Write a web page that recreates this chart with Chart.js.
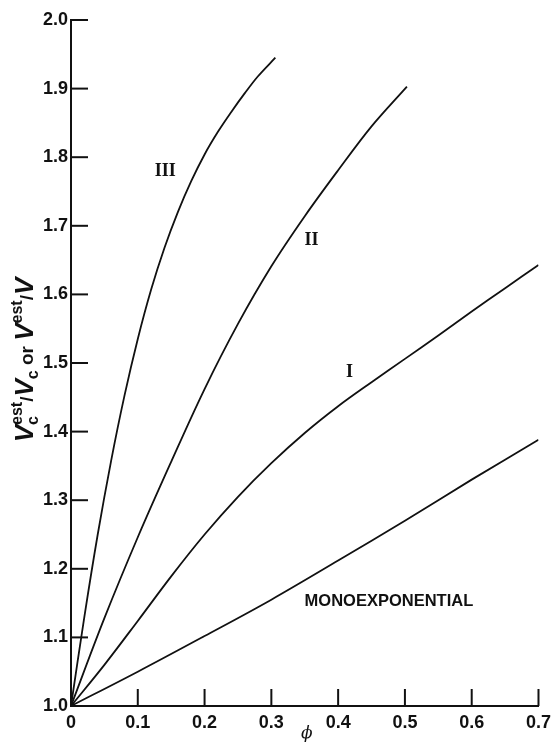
<!DOCTYPE html>
<html>
<head>
<meta charset="utf-8">
<script src="https://cdn.jsdelivr.net/npm/chart.js@4.4.1/dist/chart.umd.min.js"></script>
<style>
    body { margin: 0; background: #fff; }
    #wrap { width: 557px; height: 742px; position: relative; }
</style>
</head>
<body>
<div id="wrap"><canvas id="myChart"></canvas></div>
<script>
// valeurs (phi -> Vest/V)
const monoX = [0, 0.1, 0.2, 0.3, 0.4, 0.5, 0.6, 0.7];
const monoY = [1.0, 1.05, 1.102, 1.155, 1.212, 1.27, 1.33, 1.388];

const curve1X = [0, 0.05, 0.1, 0.15, 0.2, 0.25, 0.3, 0.35, 0.4, 0.45, 0.5, 0.55, 0.6, 0.65, 0.7];
const curve1Y = [1.0, 1.06, 1.124, 1.189, 1.25, 1.305, 1.354, 1.398, 1.437, 1.472, 1.506, 1.54, 1.575, 1.609, 1.643];

const curve2X = [0, 0.05, 0.1, 0.15, 0.2, 0.25, 0.3, 0.35, 0.4, 0.45, 0.503];
const curve2Y = [1.0, 1.128, 1.246, 1.356, 1.462, 1.557, 1.641, 1.714, 1.781, 1.845, 1.903];

const curve3X = [0, 0.02, 0.04, 0.06, 0.08, 0.1, 0.12, 0.14, 0.16, 0.18, 0.2, 0.22, 0.24, 0.26, 0.28, 0.306];
const curve3Y = [1.0, 1.13, 1.25, 1.357, 1.452, 1.535, 1.607, 1.668, 1.72, 1.765, 1.804, 1.837, 1.866, 1.893, 1.918, 1.945];

const xTicks = [0, 0.1, 0.2, 0.3, 0.4, 0.5, 0.6, 0.7];
const yTicks = [1.0, 1.1, 1.2, 1.3, 1.4, 1.5, 1.6, 1.7, 1.8, 1.9, 2.0];

// étiquettes des courbes : texte, phi, valeur
const curveLabels = [
    ['III', 0.141, 1.779],
    ['II', 0.360, 1.679],
    ['I', 0.417, 1.487],
    ['MONOEXPONENTIAL', 0.476, 1.152]
];

const INK = '#111';

function toPoints(xs, ys) {
    return xs.map((x, i) => ({ x: x, y: ys[i] }));
}

function makeSet(name, xs, ys) {
    return {
        label: name,
        data: toPoints(xs, ys),
        showLine: true,
        borderColor: INK,
        borderWidth: 1.8,
        pointRadius: 0,
        tension: 0.35,
        fill: false
    };
}

// petits traits vers l'intérieur + textes
const decor = {
    id: 'decor',
    afterDraw(chart) {
        const ctx = chart.ctx;
        const xs = chart.scales.x;
        const ys = chart.scales.y;
        const area = chart.chartArea;
        ctx.save();
        ctx.strokeStyle = INK;
        ctx.lineWidth = 2;
        xTicks.forEach(v => {
            if (v === 0) return;
            const px = xs.getPixelForValue(v);
            ctx.beginPath();
            ctx.moveTo(px, area.bottom);
            ctx.lineTo(px, area.bottom - 17);
            ctx.stroke();
        });
        yTicks.forEach(v => {
            if (v === 1.0) return;
            const py = ys.getPixelForValue(v);
            ctx.beginPath();
            ctx.moveTo(area.left, py);
            ctx.lineTo(area.left + 17, py);
            ctx.stroke();
        });

        ctx.fillStyle = INK;
        ctx.textAlign = 'center';
        ctx.textBaseline = 'middle';
        curveLabels.forEach(l => {
            if (l[0] === 'MONOEXPONENTIAL') {
                ctx.font = 'bold 16.5px "Liberation Sans", sans-serif';
            } else {
                ctx.font = 'bold 18px "Liberation Serif", serif';
            }
            ctx.fillText(l[0], xs.getPixelForValue(l[1]), ys.getPixelForValue(l[2]));
        });

        // titre axe x
        ctx.font = 'italic 17px "DejaVu Serif", serif';
        ctx.fillText('\u03D5', (area.left + area.right) / 2 + 2, 734);

        // titre axe y : Vc^est/Vc or V^est/V
        const big = 'bold italic 26px "Liberation Sans", sans-serif';
        const small = 'bold 16px "Liberation Sans", sans-serif';
        const mid = 'bold 19px "Liberation Sans", sans-serif';
        const parts = [
            { t: 'V', f: big, dy: 0 },
            { t: 'est', f: small, dy: -11, sub: 'c' },
            { t: '/', f: mid, dy: 0 },
            { t: 'V', f: big, dy: 0 },
            { t: 'c', f: small, dy: 5 },
            { t: ' or ', f: mid, dy: 0 },
            { t: 'V', f: big, dy: 0 },
            { t: 'est', f: small, dy: -11 },
            { t: '/', f: mid, dy: 0 },
            { t: 'V', f: big, dy: 0 }
        ];
        let total = 0;
        parts.forEach(p => {
            ctx.font = p.f;
            p.w = ctx.measureText(p.t).width;
            if (p.sub) {
                p.w = Math.max(p.w, ctx.measureText(p.sub).width);
            }
            total += p.w;
        });
        ctx.translate(33, 360);
        ctx.rotate(-Math.PI / 2);
        ctx.textAlign = 'left';
        ctx.textBaseline = 'alphabetic';
        let cx = -total / 2;
        parts.forEach(p => {
            ctx.font = p.f;
            ctx.fillText(p.t, cx, p.dy);
            if (p.sub) {
                ctx.fillText(p.sub, cx, 5);
            }
            cx += p.w;
        });
        ctx.restore();
    }
};

function drawGraphique() {
    const ctx = document.getElementById('myChart');
    Chart.defaults.color = INK;

    new Chart(ctx, {
        type: 'scatter',
        data: {
            datasets: [
                makeSet('Monoexponential', monoX, monoY),
                makeSet('I', curve1X, curve1Y),
                makeSet('II', curve2X, curve2Y),
                makeSet('III', curve3X, curve3Y)
            ]
        },
        options: {
            responsive: true,
            maintainAspectRatio: false,
            animation: false,
            layout: {
                padding: { top: 20, right: 14, left: 0, bottom: 0 }
            },
            plugins: {
                legend: { display: false },
                tooltip: { enabled: false }
            },
            scales: {
                x: {
                    type: 'linear',
                    min: 0,
                    max: 0.7,
                    afterFit: s => { s.height = 36; },
                    afterBuildTicks: s => { s.ticks = xTicks.map(v => ({ value: v })); },
                    grid: { display: false, drawTicks: false },
                    border: { display: true, color: INK, width: 2 },
                    ticks: {
                        padding: 6,
                        maxRotation: 0,
                        font: { family: '"Liberation Sans", sans-serif', size: 18, weight: 'bold' },
                        callback: v => (v === 0 ? '0' : v.toFixed(1))
                    }
                },
                y: {
                    type: 'linear',
                    min: 1.0,
                    max: 2.0,
                    afterFit: s => { s.width = 71; },
                    afterBuildTicks: s => { s.ticks = yTicks.map(v => ({ value: v })); },
                    grid: { display: false, drawTicks: false },
                    border: { display: true, color: INK, width: 2 },
                    ticks: {
                        padding: 3,
                        font: { family: '"Liberation Sans", sans-serif', size: 18, weight: 'bold' },
                        callback: v => v.toFixed(1)
                    }
                }
            }
        },
        plugins: [decor]
    });
}

drawGraphique();
</script>
</body>
</html>
